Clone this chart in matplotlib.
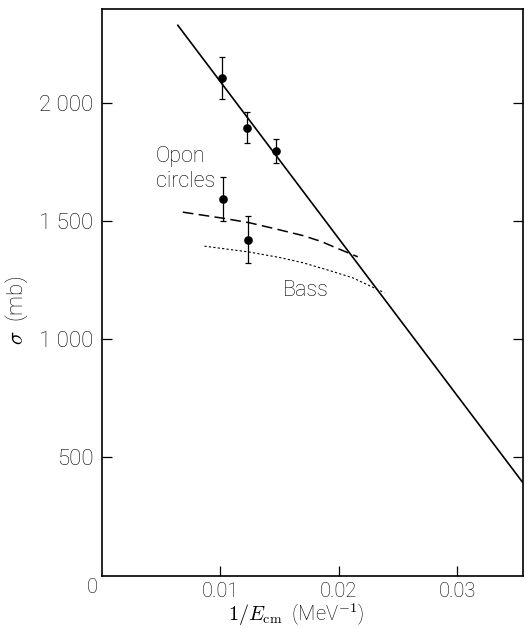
import matplotlib
matplotlib.use("Agg")
import matplotlib.pyplot as plt

plt.rcParams['font.family'] = ['Roboto', 'DejaVu Sans']
plt.rcParams['font.weight'] = 'light'
plt.rcParams['axes.labelweight'] = 'light'
plt.rcParams['mathtext.fontset'] = 'cm'

# data points (1/E_cm in MeV^-1, sigma in mb)
pts_x = [0.01014, 0.01225, 0.01467]
pts_y = [2105, 1896, 1797]
pts_err = [90, 65, 50]

open_x = [0.01025, 0.01236]
open_y = [1595, 1422]
open_err = [93, 100]

# solid fit line
line_x = [0.0064, 0.0355]
line_y = [2329, 395]

# dashed curve
dash_x = [0.00682, 0.01025, 0.01245, 0.0145, 0.01695, 0.0185, 0.01976, 0.02159]
dash_y = [1538, 1512, 1493, 1469, 1439, 1414, 1387, 1349]

# dotted curve (Bass)
dot_x = [0.00865, 0.01245, 0.0150, 0.01695, 0.0190, 0.02117, 0.02384]
dot_y = [1394, 1369, 1346, 1324, 1294, 1260, 1197]

xticks = [0.01, 0.02, 0.03]
xtick_labels = ['0.01', '0.02', '0.03']
yticks = [500, 1000, 1500, 2000]
ytick_labels = ['500', '1 000', '1 500', '2 000']

fig = plt.figure(figsize=(5.26, 6.29), dpi=100)
ax = fig.add_axes([102/526, 1-575.5/629, 420.5/526, 567/629])

ax.plot(line_x, line_y, color='black', lw=1.2)
ax.plot(dash_x, dash_y, color='black', lw=1.1, dashes=(7, 3.5))
ax.plot(dot_x, dot_y, color='black', lw=0.8, dashes=(2, 2))

ax.errorbar(pts_x, pts_y, yerr=pts_err, fmt='o', color='black', ms=5.2,
            elinewidth=0.9, capsize=2.5, capthick=0.9)
ax.errorbar(open_x, open_y, yerr=open_err, fmt='o', color='black', ms=5.2,
            elinewidth=0.9, capsize=2.5, capthick=0.9)

ax.set_xlim(0, 0.0355)
ax.set_ylim(0, 2400)

ax.set_xticks(xticks)
ax.set_xticklabels(xtick_labels, fontsize=14.5)
ax.set_yticks(yticks)
ax.set_yticklabels(ytick_labels, fontsize=16)
ax.tick_params(axis='x', direction='in', length=7, width=0.9, pad=5, top=False)
ax.tick_params(axis='y', direction='in', length=7, width=0.9, pad=6, right=True)

for s in ax.spines.values():
    s.set_linewidth(1.2)

ax.text(-0.0008 / 0.0355, -0.022, '0', transform=ax.transAxes, fontsize=14.5,
        ha='center', va='center')

ax.set_xlabel(r'$1/E_{\rm cm}$  (MeV$^{-1}$)', fontsize=14.5)
ax.xaxis.set_label_coords(0.461, -0.046)
ax.set_ylabel(r'$\sigma$  (mb)', fontsize=16)
ax.yaxis.set_label_coords(-0.172, 0.468)

ax.text(0.00449, 1775, 'Opon', fontsize=15.5, ha='left', va='center')
ax.text(0.00455, 1669, 'circles', fontsize=15.5, ha='left', va='center')
ax.text(0.01723, 1208, 'Bass', fontsize=15.5, ha='center', va='center')

fig.savefig('out.png', dpi=100)
